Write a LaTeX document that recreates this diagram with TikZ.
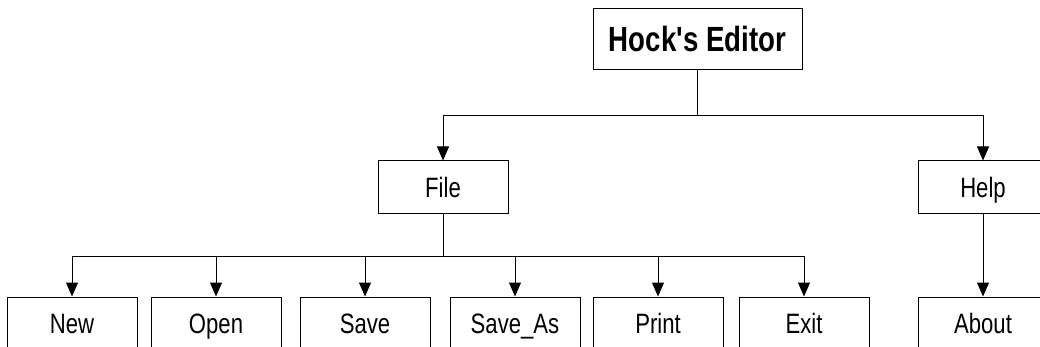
\documentclass[tikz,border=0pt]{standalone}
\usepackage{fontspec}
% a family of its own keeps the straight apostrophe (no TeX mapping)
\newfontfamily\boxfont{Liberation Sans}[FakeStretch=0.79]
\usetikzlibrary{arrows.meta}
\tikzset{
  menubox/.style={draw=black, line width=1pt, inner sep=0pt,
    minimum width=130pt, minimum height=53pt,
    font=\boxfont\fontsize{28}{30}\selectfont, text height=20pt, text depth=0pt},
  rootbox/.style={menubox, minimum width=209pt, minimum height=61pt,
    font=\boxfont\fontsize{35}{38}\selectfont\bfseries, text height=25pt},
  link/.style={draw=black, line width=1pt},
  arrowlink/.style={link, -{Triangle[width=12pt,length=14pt]}}
}
\begin{document}
\begin{tikzpicture}[x=1pt,y=-1pt]
  \useasboundingbox (0,0) rectangle (1040,347);
  \clip (0,0) rectangle (1040,347);
  \fill[white] (0,0) rectangle (1040,347);

  % root and first menu level
  \node[rootbox] (hock) at (697.5,39.5) {Hock's Editor};
  \node[menubox] (file) at (443,187.5) {File};
  \node[menubox] (help) at (983,187.5) {Help};

  % items of the File menu and the Help menu
  \node[menubox] (new)    at (72,323.5)  {New};
  \node[menubox] (open)   at (216,323.5) {Open};
  \node[menubox] (save)   at (365,323.5) {Save};
  \node[menubox] (saveas) at (515,323.5) {Save\_As};
  \node[menubox] (print)  at (658,323.5) {Print};
  \node[menubox] (exit)   at (804,323.5) {Exit};
  \node[menubox] (about)  at (983,323.5) {About};

  % root to menus
  \draw[link] (hock.south) -- (hock.south |- 0,116) coordinate (hbus);
  \draw[arrowlink] (hbus) -| (file.north);
  \draw[arrowlink] (hbus) -| (help.north);

  % File to its items
  \draw[link] (file.south) -- (file.south |- 0,256) coordinate (fbus);
  \foreach \item in {new,open,save,saveas,print,exit}
    \draw[arrowlink] (fbus) -| (\item.north);

  % Help to About
  \draw[arrowlink] (help.south) -- (about.north);
\end{tikzpicture}
\end{document}
